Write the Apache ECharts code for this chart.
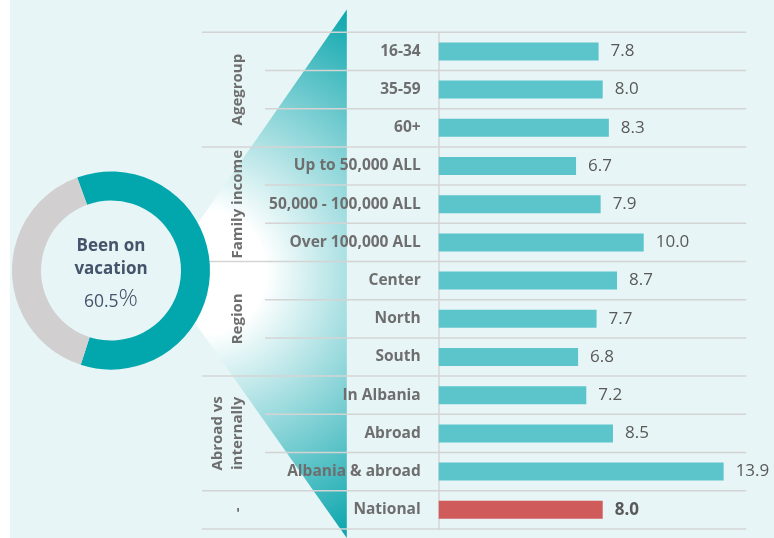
<!DOCTYPE html>
<html>
<head>
<meta charset="utf-8">
<script src="https://cdn.jsdelivr.net/npm/echarts@6/dist/echarts.min.js"></script>
<style>
  html, body { margin: 0; padding: 0; background: #ffffff; }
  #chart { width: 774px; height: 538px; }
</style>
</head>
<body>
<div id="chart"></div>
<script>
// Average number of vacation days by respondent profile
const categories = [
  '16-34', '35-59', '60+',
  'Up to 50,000 ALL', '50,000 - 100,000 ALL', 'Over 100,000 ALL',
  'Center', 'North', 'South',
  'In Albania', 'Abroad', 'Albania & abroad',
  'National'
];
const values = [7.8, 8.0, 8.3, 6.7, 7.9, 10.0, 8.7, 7.7, 6.8, 7.2, 8.5, 13.9, 8.0];
const highlightCategory = 'National';

// Row groups shown on the left, with how many rows each spans
const groupNames = ['Agegroup', 'Family income', 'Region', 'Abroad vs\ninternally', '-'];
const groupSizes = [3, 3, 3, 3, 1];

// Share of people who have been on vacation
const donutTitle = ['Been on', 'vacation'];
const donutShares = [60.5, 39.5];

const FONT = '"Open Sans", "Liberation Sans", sans-serif';
const TEAL = '#5BC5CB';
const RED = '#CF5B5B';
const LABEL_GRAY = '#6E6E6E';
const LINE_GRAY = '#D4D4D4';

const chart = echarts.init(document.getElementById('chart'), null, { renderer: 'canvas' });

const option = {
  animation: false,
  backgroundColor: '#ffffff',
  grid: { left: 438.7, top: 32.3, width: 307.5, height: 496.6, containLabel: false },
  xAxis: {
    type: 'value', min: 0, max: 15,
    show: false,
    splitLine: { show: false }
  },
  yAxis: {
    type: 'category',
    data: categories,
    inverse: true,
    axisTick: { show: false },
    axisLine: { show: true, lineStyle: { color: LINE_GRAY, width: 1.5 } },
    splitLine: { show: false },
    axisLabel: {
      color: LABEL_GRAY,
      fontFamily: FONT,
      fontWeight: 'bold',
      fontSize: 15.5,
      margin: 18
    }
  },
  series: [
    {
      type: 'bar',
      barWidth: 18,
      silent: true,
      data: values.map((v, i) => {
        const hi = categories[i] === highlightCategory;
        return {
          value: v,
          itemStyle: { color: hi ? RED : TEAL },
          label: { fontWeight: hi ? 'bold' : 'normal' }
        };
      }),
      label: {
        show: true,
        position: 'right',
        distance: 12,
        color: '#595959',
        fontFamily: FONT,
        fontSize: 17,
        formatter: p => p.value.toFixed(1)
      }
    },
    {
      type: 'pie',
      silent: true,
      center: [111, 270.5],
      radius: [70, 99],
      startAngle: 110,
      clockwise: true,
      label: { show: false },
      labelLine: { show: false },
      emphasis: { disabled: true },
      data: [
        { value: donutShares[0], itemStyle: { color: '#02A7AE' } },
        { value: donutShares[1], itemStyle: { color: '#D1CFD0' } }
      ]
    }
  ]
};

chart.setOption(option);

// Row boundaries from the category axis
const yOf = name => chart.convertToPixel({ yAxisIndex: 0 }, name);
const step = yOf(categories[1]) - yOf(categories[0]);
const boundary = k => yOf(categories[0]) + (k - 0.5) * step;
const rightEdge = chart.convertToPixel({ xAxisIndex: 0 }, 15);

const groupStarts = [];
let acc = 0;
groupSizes.forEach(s => { groupStarts.push(acc); acc += s; });

const graphics = [];

// panel background
graphics.push({
  type: 'rect', z: -10, silent: true,
  shape: { x: 10, y: 0, width: 764, height: 538 },
  style: { fill: '#E7F5F6' }
});

// funnel wedge from the donut to the rows
const topY = 9.5, botY = 538;
graphics.push({
  type: 'polygon', z: -9, silent: true,
  shape: { points: [[346.8, topY], [196, 226], [188, 272], [193, 320], [346.8, botY]] },
  style: {
    fill: {
      type: 'radial', x: 204, y: 272, r: 295, global: true,
      colorStops: [
        { offset: 0, color: '#ffffff' },
        { offset: 0.21, color: '#ffffff' },
        { offset: 1, color: '#0EA7AE' }
      ]
    }
  }
});

// horizontal row separators
for (let k = 0; k <= categories.length; k++) {
  const isGroupEdge = groupStarts.includes(k) || k === categories.length;
  const y = boundary(k);
  graphics.push({
    type: 'line', z: 1, silent: true,
    shape: { x1: isGroupEdge ? 202 : 265, y1: y, x2: rightEdge, y2: y },
    style: { stroke: LINE_GRAY, lineWidth: 1.5 }
  });
}

// rotated group labels
groupNames.forEach((name, g) => {
  const yc = (boundary(groupStarts[g]) + boundary(groupStarts[g] + groupSizes[g])) / 2;
  graphics.push({
    type: 'text', z: 5, silent: true,
    x: 248, y: yc, rotation: Math.PI / 2,
    style: {
      text: name,
      fill: LABEL_GRAY,
      fontFamily: FONT,
      fontWeight: 'bold',
      fontSize: 15,
      lineHeight: 20,
      align: 'center',
      verticalAlign: 'bottom'
    }
  });
});

// donut centre text
donutTitle.forEach((t, i) => {
  graphics.push({
    type: 'text', z: 5, silent: true,
    x: 111, y: 246 + i * 23.5,
    style: {
      text: t, fill: '#44546A', fontFamily: FONT, fontWeight: 'bold', fontSize: 17,
      align: 'center', verticalAlign: 'middle'
    }
  });
});
graphics.push({
  type: 'text', z: 5, silent: true,
  x: 111, y: 297,
  style: {
    text: '{n|' + donutShares[0].toFixed(1) + '}{p|%}',
    align: 'center', verticalAlign: 'middle',
    rich: {
      n: { fill: '#44546A', fontFamily: FONT, fontSize: 17.5, lineHeight: 28, verticalAlign: 'bottom' },
      p: { fill: '#44546A', fontFamily: FONT, fontSize: 24, fontWeight: 300, lineHeight: 28, verticalAlign: 'bottom' }
    }
  }
});

chart.setOption({ graphic: { elements: graphics } });
</script>
</body>
</html>
